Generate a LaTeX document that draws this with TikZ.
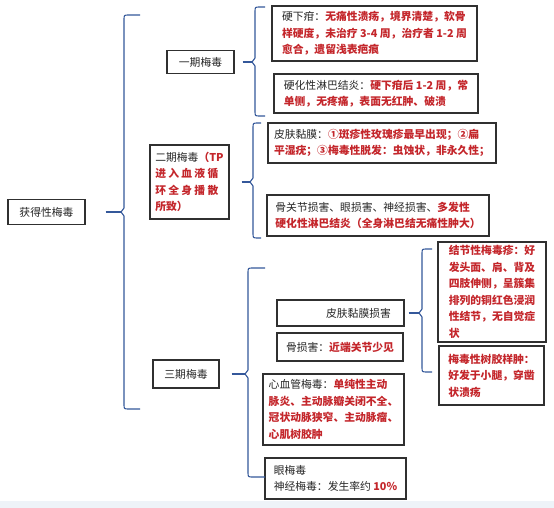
\documentclass[tikz,border=0pt]{standalone}
\usepackage{fontspec}
\newfontfamily\cjk{Noto Sans CJK SC}
\usepackage{xcolor}
\definecolor{redc}{HTML}{C4262B}
\definecolor{txtc}{HTML}{262626}
\definecolor{boxc}{HTML}{303030}
\definecolor{bluec}{HTML}{34589A}
\definecolor{stripc}{HTML}{EEF3F8}
\newcommand\R[1]{\textcolor{redc}{\bfseries #1}}
\newcommand\mybrace[5]{%
  \draw[brace] (#5,#2) -- (#1+5,#2) .. controls (#1,#2) .. (#1,#2+5) -- (#1,#4-4) -- (#1-3,#4) -- (#1,#4+4) -- (#1,#3-5) .. controls (#1,#3) .. (#1+5,#3) -- (#5,#3);
}
\tikzset{
  box/.style={draw=boxc, line width=1.1pt, inner xsep=4pt, inner ysep=0pt, align=left,
    text=txtc, font=\cjk\fontsize{10.8}{16.5}\selectfont},
  brace/.style={draw=bluec, line width=1.1pt, line join=round},
}
\begin{document}
\begin{tikzpicture}[x=1pt,y=-1pt]
\useasboundingbox (0,0) rectangle (554,508);
\fill[white] (0,0) rectangle (554,508);
\fill[stripc] (0,501) rectangle (554,508);

% nodes
\node[box, minimum width=77pt, minimum height=25pt, align=center] (root) at (46.5,212) {获得性梅毒};
\node[box, minimum width=67pt, minimum height=23pt, align=center] (p1) at (200.5,62) {一期梅毒};
\node[box, minimum width=79pt, minimum height=74pt] (p2) at (189.5,182) {二期梅毒\R{（TP}\\
  \R{\hbox to 63pt{进\hfil 入\hfil 血\hfil 液\hfil 循}}\\
  \R{\hbox to 63pt{环\hfil 全\hfil 身\hfil 播\hfil 散}}\\
  \R{所致）}};
\node[box, minimum width=66pt, minimum height=28pt, align=center] (p3) at (186,374) {三期梅毒};

\node[box, minimum width=205pt, minimum height=55pt] (a1) at (374.5,33.5) {硬下疳：\R{无痛性溃疡，境界清楚，软骨}\\
  \R{样硬度，未治疗 3-4 周，治疗者 1-2 周}\\
  \R{愈合，遗留浅表疤痕}};
\node[box, minimum width=204pt, minimum height=39pt] (a2) at (376,93.5) {硬化性淋巴结炎：\R{硬下疳后 1-2 周，常}\\
  \R{单侧，无疼痛，表面无红肿、破溃}};

\node[box, minimum width=228pt, minimum height=40pt] (b1) at (382,143) {皮肤黏膜：\R{①斑疹性玫瑰疹最早出现；②扁}\\
  \R{平湿疣；③梅毒性脱发：虫蚀状，非永久性；}};
\node[box, minimum width=222pt, minimum height=41pt] (b2) at (378,215.5) {骨关节损害、眼损害、神经损害、\R{多发性}\\
  \R{硬化性淋巴结炎（全身淋巴结无痛性肿大）}};

\node[box, minimum width=127pt, minimum height=26pt] (c1) at (340.5,313) {\hspace*{36pt}皮肤黏膜损害};
\node[box, minimum width=126pt, minimum height=28pt, align=center] (c2) at (340,347) {骨损害：\R{近端关节少见}};
\node[box, minimum width=141pt, minimum height=71pt] (c3) at (333.5,409.5) {心血管梅毒：\R{单纯性主动}\\
  \R{脉炎、主动脉瓣关闭不全、}\\
  \R{冠状动脉狭窄、主动脉瘤、}\\
  \R{心肌树胶肿}};
\node[box, minimum width=141pt, minimum height=41pt] (c4) at (335.5,478.5) {眼梅毒\\
  神经梅毒：发生率约 \R{10\%}};

\node[box, minimum width=108pt, minimum height=100pt] (d1) at (492,292) {\R{结节性梅毒疹：好}\\
  \R{发头面、肩、背及}\\
  \R{四肢伸侧，呈簇集}\\
  \R{排列的铜红色浸润}\\
  \R{性结节，无自觉症}\\
  \R{状}};
\node[box, minimum width=105pt, minimum height=59pt] (d2) at (491.5,375.5) {\R{梅毒性树胶样肿：}\\
  \R{好发于小腿，穿凿}\\
  \R{状溃疡}};

% braces
\mybrace{124}{15}{409}{212}{140}
\coordinate (bA) at (121,212);
\draw[brace] ([xshift=20pt]root.east) -- (bA);

\mybrace{255}{7}{116}{62}{265}
\coordinate (bB) at (252,62);
\draw[brace] ([xshift=8pt]p1.east) -- (bB);

\mybrace{253}{123}{238}{182}{261}
\coordinate (bC) at (250,182);
\draw[brace] ([xshift=12pt]p2.east) -- (bC);

\mybrace{248}{268}{477}{374}{265}
\coordinate (bD) at (245,374);
\draw[brace] ([xshift=12pt]p3.east) -- (bD);

\mybrace{422}{249}{372}{313}{432}
\coordinate (bE) at (419,313);
\draw[brace] ([xshift=4pt]c1.east) -- (bE);
\end{tikzpicture}
\end{document}
